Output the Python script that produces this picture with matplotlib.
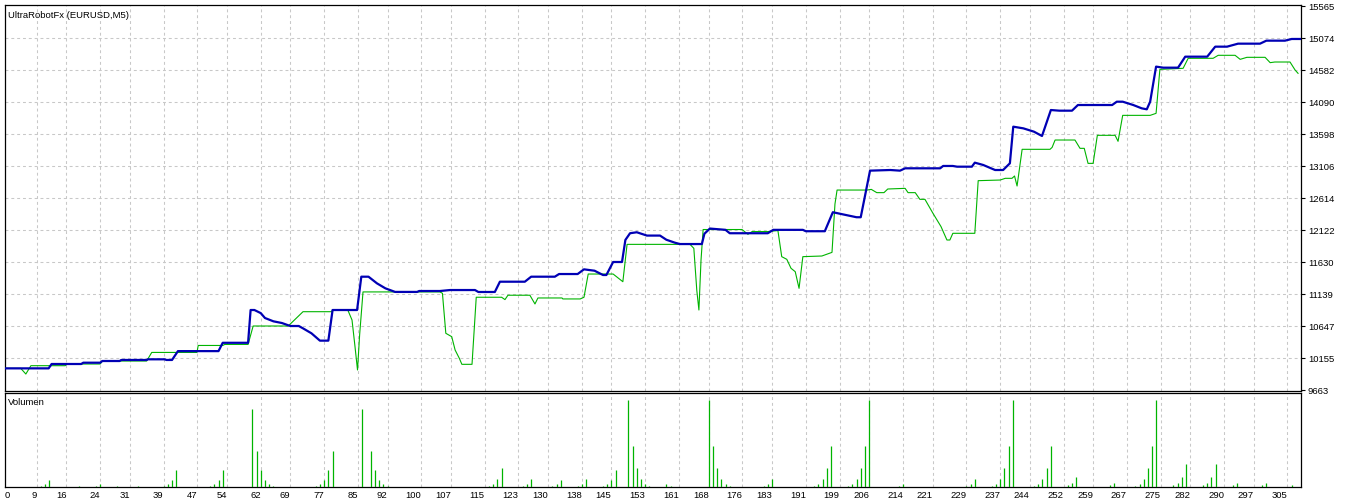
import matplotlib
matplotlib.use("Agg")
from matplotlib import pyplot as plt

# balance curve (bar index, value)
balance_x = [1.5, 11.8, 12.5, 19.5, 20, 24, 24.5, 28.6, 29, 35, 35.3, 39.2, 39.7, 41, 42.4, 52, 53, 59,
             59.6, 60.5, 62, 63, 65, 67, 69, 71, 72, 74, 76, 78, 79, 84.8, 85.8, 87.5, 89.5, 91.5, 93.8,
             99, 99.5, 104.4, 106.8, 112.7, 113.5, 117.4, 118.6, 124.5, 126, 131.6, 132.6, 137, 138.5,
             141, 143, 143.8, 145.4, 147.5, 148.3, 149.4, 151, 153.4, 156.5, 158, 160, 161.2, 166.4,
             167, 168.3, 172, 173, 182, 183.3, 190.3, 191, 195.5, 197.4, 200, 203, 204, 206.2, 211,
             213.3, 214.5, 222.8, 223.5, 225.8, 226.8, 230.3, 231, 233, 235.8, 237.7, 239.3, 240.1,
             242.5, 245, 246.9, 249, 251, 254, 255.4, 263.5, 264.6, 266, 268.5, 270.5, 271.7, 272.5,
             273.9, 275.6, 279.1, 280.8, 286, 287.9, 290.7, 293.3, 298.5, 300, 304.4, 306, 308]
balance_y = [10001, 10001, 10068, 10068, 10088, 10088, 10114, 10114, 10130, 10130, 10140, 10140, 10130,
             10130, 10266, 10266, 10394, 10394, 10898, 10898, 10850, 10775, 10724, 10698, 10652, 10652,
             10616, 10540, 10427, 10427, 10898, 10898, 11410, 11410, 11308, 11231, 11176, 11176, 11190,
             11190, 11205, 11205, 11175, 11175, 11333, 11333, 11410, 11410, 11451, 11451, 11523, 11502,
             11436, 11436, 11636, 11636, 11975, 12078, 12093, 12042, 12042, 11978, 11933, 11912, 11912,
             12070, 12150, 12130, 12078, 12078, 12130, 12130, 12109, 12109, 12401, 12365, 12324, 12324,
             13040, 13050, 13040, 13076, 13076, 13112, 13112, 13101, 13101, 13163, 13127, 13050, 13050,
             13153, 13716, 13690, 13639, 13573, 13972, 13962, 13962, 14049, 14049, 14100, 14100, 14049,
             13998, 13983, 14100, 14639, 14623, 14623, 14792, 14792, 14946, 14946, 14992, 14992, 15038,
             15038, 15064, 15064]

# equity curve (bar index, value)
equity_x = [1.5, 5.2, 6.4, 7.6, 15.7, 16.2, 24, 24.5, 35, 36.2, 46.9, 47.2, 53, 53.5, 59, 60.2, 68.5,
            72, 78.8, 79, 82.6, 83.6, 84.3, 84.9, 85.4, 86.2, 104.4, 105, 105.8, 107.2, 108, 109, 109.6,
            112, 113, 119, 119.8, 120.5, 125.7, 126.9, 127.6, 133.3, 133.5, 137.6, 138.5, 139.5, 145.4,
            147.7, 148.7, 163.6, 164.5, 165.2, 165.7, 166.2, 166.7, 175.9, 177.3, 178.3, 182, 184.4,
            185.3, 186.5, 187.5, 188.5, 189.4, 190.3, 194.8, 197.2, 197.9, 198.4, 205.5, 206.5, 207.8,
            209.5, 210.4, 214.5, 215.2, 216.9, 218, 219.2, 221.1, 223, 224.4, 225.1, 225.8, 231, 231.8,
            237, 238.2, 239.8, 240.4, 241, 242.2, 248.8, 249.3, 250, 254.7, 255.9, 256.9, 257.8, 259,
            260, 264.2, 264.9, 266, 272.5, 273.9, 274.8, 280.3, 281.5, 287.4, 288.6, 292.6, 293.8,
            295.4, 299.7, 300.9, 302, 305.6, 306.8, 307.5]
equity_y = [10001, 10001, 9914, 10042, 10042, 10068, 10068, 10114, 10114, 10246, 10246, 10353, 10353,
            10369, 10369, 10652, 10652, 10872, 10872, 10898, 10898, 10744, 10339, 9976, 10514, 11176,
            11176, 11155, 10540, 10488, 10283, 10155, 10063, 10063, 11094, 11094, 11058, 11125, 11125,
            10991, 11083, 11083, 11068, 11068, 11094, 11451, 11451, 11333, 11907, 11907, 11846, 11200,
            10898, 11666, 12135, 12135, 12062, 12104, 12104, 12119, 11718, 11677, 11539, 11487, 11231,
            11718, 11728, 11784, 12527, 12742, 12742, 12752, 12702, 12702, 12758, 12768, 12702, 12702,
            12599, 12599, 12384, 12180, 11974, 11974, 12077, 12077, 12886, 12896, 12922, 12922, 12958,
            12804, 13368, 13368, 13398, 13511, 13511, 13383, 13383, 13152, 13152, 13583, 13583, 13491,
            13890, 13890, 13921, 14597, 14613, 14767, 14767, 14813, 14813, 14751, 14782, 14782, 14700,
            14710, 14710, 14587, 14536]

# lots per bar
vol_x = [10, 11, 12, 19, 23, 24, 28, 33, 39, 40, 41, 42, 50, 51, 52, 53, 60, 61, 62, 63, 64, 65,
         75, 76, 77, 78, 79, 86, 88, 89, 90, 91, 92, 116, 117, 118, 119, 124, 125, 126, 131, 132, 133,
         137, 138, 139, 143, 144, 145, 146, 149, 150, 151, 152, 153, 154, 158, 159,
         168, 169, 170, 171, 172, 173, 181, 182, 183, 193, 194, 195, 196, 197,
         201, 202, 203, 204, 205, 206, 213, 214, 229, 230, 231, 235, 236, 237, 238, 239, 240,
         245, 246, 247, 248, 249, 253, 254, 255, 263, 264, 269, 270, 271, 272, 273, 274,
         278, 279, 280, 281, 285, 286, 287, 288, 292, 293, 299, 300, 306]
vol_y = [0.01, 0.03, 0.07, 0.01, 0.01, 0.03, 0.01, 0.01, 0.01, 0.03, 0.07, 0.17, 0.01, 0.03, 0.07, 0.17,
         0.77, 0.36, 0.17, 0.07, 0.03, 0.01, 0.01, 0.03, 0.07, 0.17, 0.36, 0.77, 0.36, 0.17, 0.07, 0.03,
         0.01, 0.01, 0.03, 0.08, 0.19, 0.01, 0.03, 0.08, 0.01, 0.03, 0.07, 0.01, 0.03, 0.08,
         0.01, 0.03, 0.07, 0.17, 0.86, 0.41, 0.19, 0.08, 0.03, 0.01, 0.03, 0.01,
         0.86, 0.41, 0.19, 0.08, 0.03, 0.01, 0.01, 0.03, 0.08, 0.01, 0.03, 0.08, 0.19, 0.41,
         0.01, 0.03, 0.08, 0.19, 0.41, 0.86, 0.01, 0.03, 0.01, 0.03, 0.08, 0.01, 0.03, 0.08, 0.19, 0.41, 0.86,
         0.01, 0.03, 0.08, 0.19, 0.41, 0.02, 0.04, 0.10, 0.02, 0.04, 0.01, 0.03, 0.08, 0.19, 0.41, 0.86,
         0.02, 0.04, 0.10, 0.23, 0.02, 0.04, 0.10, 0.23, 0.02, 0.04, 0.02, 0.04, 0.02]

y_ticks = [9663, 10155, 10647, 11139, 11630, 12122, 12614, 13106, 13598, 14090, 14582, 15074, 15565]
x_ticks = [0, 9, 16, 24, 31, 39, 47, 54, 62, 69, 77, 85, 92, 100, 107, 115, 123, 130, 138, 145, 153,
           161, 168, 176, 183, 191, 199, 206, 214, 221, 229, 237, 244, 252, 259, 267, 275, 282, 290, 297, 305]

BLUE = "#0000b4"
GREEN = "#00b400"
GRID = "#c8c8c8"
FONT = "Liberation Sans"
FS = 6.8
XMIN, XMAX = 1.47, 308.2
DASH = (0, (2.8, 2.8))

fig = plt.figure(figsize=(13.46, 5.04), dpi=100)
ax = fig.add_axes([5 / 1346, 1 - 391 / 504, 1296 / 1346, 386.5 / 504])
axv = fig.add_axes([5 / 1346, 1 - 487.3 / 504, 1296 / 1346, 94 / 504], sharex=ax)

for a in (ax, axv):
    for s in a.spines.values():
        s.set_color("black")
        s.set_linewidth(0.9)

ax.plot(equity_x, equity_y, color=GREEN, lw=0.8, zorder=3)
ax.plot(balance_x, balance_y, color=BLUE, lw=1.6, zorder=4)
ax.set_xlim(XMIN, XMAX)
ax.set_ylim(9653, 15594)

# dashed grid like the terminal
for v in y_ticks[1:-1]:
    ax.axhline(v, color=GRID, lw=0.75, ls=DASH, zorder=1)
for v in x_ticks[1:]:
    ax.axvline(v, color=GRID, lw=0.75, ls=DASH, zorder=1)
    axv.axvline(v, color=GRID, lw=0.75, ls=DASH, zorder=1)

ax.yaxis.tick_right()
ax.set_yticks(y_ticks)
ax.set_yticklabels([str(v) for v in y_ticks], fontsize=FS, family=FONT)
ax.tick_params(axis="y", length=3, width=0.8, pad=2)
ax.tick_params(axis="x", length=0, labelbottom=False)

axv.vlines(vol_x, 0, vol_y, color=GREEN, lw=0.9, zorder=3)
axv.set_ylim(0, 0.93)
axv.set_yticks([])
axv.set_xticks([XMIN] + x_ticks[1:])
labels = axv.set_xticklabels([str(v) for v in x_ticks], fontsize=FS, family=FONT)
for i, t in enumerate(labels):
    t.set_ha("left" if i == 0 else "right")
axv.tick_params(axis="x", length=0, pad=2.5)

ax.text(0.0025, 0.982, "UltraRobotFx (EURUSD,M5)", transform=ax.transAxes, fontsize=FS,
        family=FONT, ha="left", va="top")
axv.text(0.0025, 0.95, "Volumen", transform=axv.transAxes, fontsize=FS,
         family=FONT, ha="left", va="top")

fig.savefig("out.png", dpi=100)
